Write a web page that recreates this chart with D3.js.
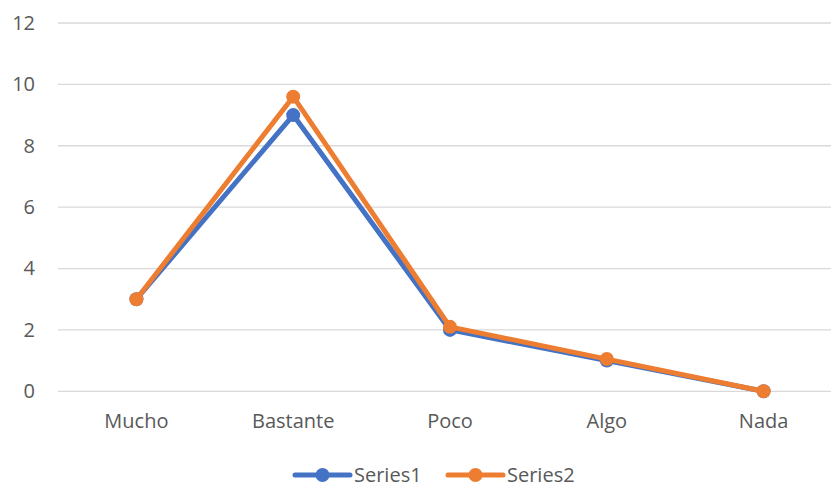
<!DOCTYPE html>
<html>
<head>
<meta charset="utf-8">
<script src="https://cdn.jsdelivr.net/npm/d3@7"></script>
<style>
  html, body { margin: 0; padding: 0; background: #fff; }
  svg { display: block; }
  text { font-family: "Open Sans", "Liberation Sans", sans-serif; fill: #595959; }
</style>
</head>
<body>
<svg id="chart" width="831" height="487"></svg>
<script>
// Chart data
const categories = ["Mucho", "Bastante", "Poco", "Algo", "Nada"];
const series1 = [3, 9, 2, 1, 0];
const series2 = [3, 9.6, 2.1, 1.05, 0];
const yTicks = [0, 2, 4, 6, 8, 10, 12];
const seriesNames = ["Series1", "Series2"];
const seriesColors = ["#4472C4", "#ED7D31"];

const svg = d3.select("#chart");
const fontSize = 20;

const x = d3.scaleBand().domain(categories).range([58, 842]);
const y = d3.scaleLinear().domain([0, 12]).range([391.3, 23]);

// Horizontal gridlines
svg.append("g")
  .selectAll("line")
  .data(yTicks)
  .join("line")
  .attr("x1", 58).attr("x2", 831)
  .attr("y1", d => y(d)).attr("y2", d => y(d))
  .attr("stroke", "#D9D9D9")
  .attr("stroke-width", 1.3);

// Y axis labels
const yAxis = d3.axisLeft(y).tickValues(yTicks).tickSize(0).tickPadding(0);
const gy = svg.append("g").attr("transform", "translate(35,0)").call(yAxis);
gy.select(".domain").remove();
gy.selectAll("text")
  .attr("font-size", fontSize)
  .attr("font-family", "\"Open Sans\", sans-serif")
  .attr("fill", "#595959");

// X axis labels
const xAxis = d3.axisBottom(x).tickSize(0).tickPadding(0);
const gx = svg.append("g").attr("transform", "translate(0,414)").call(xAxis);
gx.select(".domain").remove();
gx.selectAll("text")
  .attr("font-size", fontSize)
  .attr("font-family", "\"Open Sans\", sans-serif")
  .attr("fill", "#595959");

const cx = c => x(c) + x.bandwidth() / 2;

const allSeries = [series1, series2];
allSeries.forEach((vals, i) => {
  const pts = categories.map((c, j) => [cx(c), y(vals[j])]);
  svg.append("path")
    .attr("d", d3.line()(pts))
    .attr("fill", "none")
    .attr("stroke", seriesColors[i])
    .attr("stroke-width", 5)
    .attr("stroke-linejoin", "round")
    .attr("stroke-linecap", "round");
  svg.append("g")
    .selectAll("circle")
    .data(pts)
    .join("circle")
    .attr("cx", d => d[0]).attr("cy", d => d[1])
    .attr("r", 7)
    .attr("fill", seriesColors[i]);
});

// Legend
const legendX = [295, 448];
seriesNames.forEach((name, i) => {
  const g = svg.append("g").attr("transform", `translate(${legendX[i]},475)`);
  g.append("line")
    .attr("x1", 0).attr("x2", 55).attr("y1", 0).attr("y2", 0)
    .attr("stroke", seriesColors[i]).attr("stroke-width", 5)
    .attr("stroke-linecap", "round");
  g.append("circle").attr("cx", 27.5).attr("cy", 0).attr("r", 7)
    .attr("fill", seriesColors[i]);
  g.append("text")
    .attr("x", 59).attr("y", 0).attr("dy", "0.35em")
    .attr("font-size", fontSize)
    .text(name);
});
</script>
</body>
</html>
